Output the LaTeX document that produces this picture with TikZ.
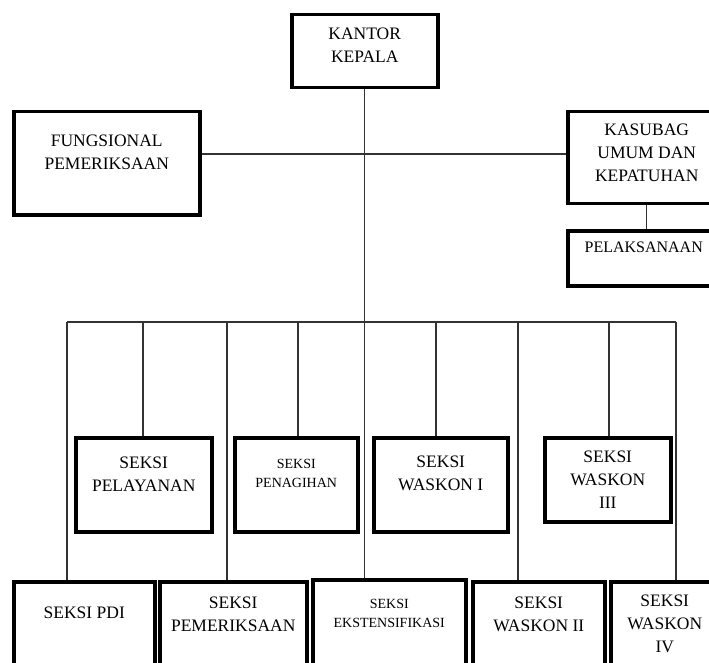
\documentclass[tikz,border=0pt]{standalone}
\usepackage{fontspec}
\setmainfont{Liberation Serif}
\begin{document}
\begin{tikzpicture}[x=1pt,y=-1pt,
    box/.style={draw,line width=3.5pt,inner sep=0pt,anchor=north west},
    txt/.style={anchor=north,inner sep=0pt,align=center,font=\fontsize{17.5}{23}\selectfont},
    smalltxt/.style={txt,font=\fontsize{14}{19.5}\selectfont},
    conn/.style={line width=1.2pt,black!80}]
    \useasboundingbox (0,0) rectangle (709,663);
    \clip (0,0) rectangle (709,663);

    % Head office
    \node[box,minimum width=146,minimum height=73] (kantor) at (290,13) {};
    \node[txt] (kantortxt) at ([yshift=-15pt]kantor.north) {KANTOR\\KEPALA};

    % Staff boxes
    \node[box,minimum width=186,minimum height=103] (fungsional) at (12,110) {};
    \node[txt] (fungsionaltxt) at ([yshift=-25pt]fungsional.north) {FUNGSIONAL\\PEMERIKSAAN};
    \node[box,minimum width=158,minimum height=92] (kasubag) at (566,110) {};
    \node[txt] (kasubagtxt) at ([yshift=-14pt]kasubag.north) {KASUBAG\\UMUM DAN\\KEPATUHAN};
    \node[box,minimum width=158,minimum height=55] (pelaksanaan) at (566,229) {};
    \node[txt,font=\fontsize{16}{23}\selectfont] (pelaksanaantxt) at ([xshift=-3pt,yshift=-13pt]pelaksanaan.north) {PELAKSANAAN};

    % Upper row of sections
    \node[box,minimum width=136,minimum height=94] (pelayanan) at (74,436) {};
    \node[txt] (pelayanantxt) at ([yshift=-21pt]pelayanan.north) {SEKSI\\PELAYANAN};
    \node[box,minimum width=123,minimum height=94] (penagihan) at (233,436) {};
    \node[smalltxt] (penagihantxt) at ([yshift=-23pt]penagihan.north) {SEKSI\\PENAGIHAN};
    \node[box,minimum width=134,minimum height=94] (waskonI) at (372,436) {};
    \node[txt] (waskonItxt) at ([yshift=-20pt]waskonI.north) {SEKSI\\WASKON I};
    \node[box,minimum width=126,minimum height=84] (waskonIII) at (543,436) {};
    \node[txt] (waskonIIItxt) at ([yshift=-15pt]waskonIII.north) {SEKSI\\WASKON\\III};

    % Lower row of sections
    \node[box,minimum width=141,minimum height=120] (pdi) at (12,580) {};
    \node[txt] (pditxt) at ([yshift=-27pt]pdi.north) {SEKSI PDI};
    \node[box,minimum width=147,minimum height=120] (pemeriksaan) at (158,580) {};
    \node[txt] (pemeriksaantxt) at ([yshift=-17pt]pemeriksaan.north) {SEKSI\\PEMERIKSAAN};
    \node[box,minimum width=153,minimum height=120] (ekst) at (311,578) {};
    \node[smalltxt] (eksttxt) at ([yshift=-21pt]ekst.north) {SEKSI\\EKSTENSIFIKASI};
    \node[box,minimum width=132,minimum height=120] (waskonII) at (471,580) {};
    \node[txt] (waskonIItxt) at ([yshift=-17pt]waskonII.north) {SEKSI\\WASKON II};
    \node[box,minimum width=108,minimum height=120] (waskonIV) at (609,580) {};
    \node[txt] (waskonIVtxt) at ([yshift=-15pt]waskonIV.north) {SEKSI\\WASKON\\IV};

    % Lines
    \coordinate (mid) at (362,154);
    \coordinate (bus) at (0,322);
    \draw[conn] (kantor.south) -- (kantor.south |- ekst.north);
    \draw[conn] (mid -| fungsional.east) -- (mid -| kasubag.west);
    \draw[conn] (kasubag.south) -- (pelaksanaan.north);
    \draw[conn] (bus) ++(67,0) -- ++(609,0);
    \foreach \x/\n in {67/pdi,143/pelayanan,227/pemeriksaan,298/penagihan,
        436/waskonI,518/waskonII,609/waskonIII,676/waskonIV}{
        \path (bus) ++(\x,0) coordinate (drop);
        \draw[conn] (drop) -- (drop |- \n.north);
    }
\end{tikzpicture}
\end{document}
